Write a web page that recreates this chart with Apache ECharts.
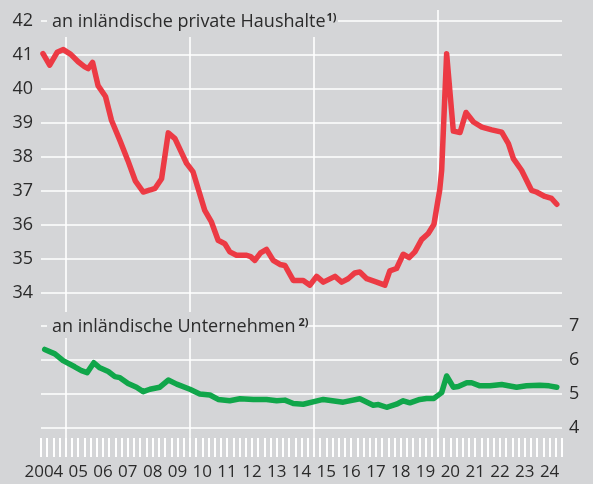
<!DOCTYPE html>
<html>
<head>
<meta charset="utf-8">
<script src="https://cdn.jsdelivr.net/npm/echarts@6/dist/echarts.min.js"></script>
<style>
  html, body { margin: 0; padding: 0; background: #d4d5d7; }
  #main { width: 593px; height: 484px; }
</style>
</head>
<body>
<div id="main"></div>
<script>
// Zinssätze (Prozent p.a.), Zeitpunkt als Dezimaljahr
var hhYears = [2004.08, 2004.35, 2004.65, 2004.9, 2005.2, 2005.5, 2005.75, 2005.9, 2006.08, 2006.3,
  2006.6, 2006.84, 2007.18, 2007.5, 2007.8, 2008.12, 2008.4, 2008.6, 2008.86, 2009.13,
  2009.4, 2009.65, 2009.87, 2010.13, 2010.6, 2010.87, 2011.14, 2011.41, 2011.61, 2011.88,
  2012.29, 2012.45, 2012.62, 2012.85, 2013.09, 2013.36, 2013.63, 2013.83, 2014.17, 2014.57,
  2014.84, 2015.11, 2015.38, 2015.85, 2016.12, 2016.38, 2016.65, 2016.85, 2017.13, 2017.53,
  2017.86, 2018.06, 2018.33, 2018.6, 2018.84, 2019.07, 2019.34, 2019.61, 2019.84, 2020.0,
  2020.07, 2020.15, 2020.35, 2020.62, 2020.89, 2021.13, 2021.43, 2021.77, 2022.17, 2022.57,
  2022.84, 2023.04, 2023.37, 2023.77, 2023.97, 2024.31, 2024.58, 2024.79];
var hhRates = [41.04, 40.70, 41.08, 41.16, 41.02, 40.80, 40.66, 40.60, 40.78, 40.10,
  39.78, 39.08, 38.49, 37.90, 37.30, 36.97, 37.03, 37.08, 37.36, 38.71,
  38.54, 38.15, 37.81, 37.56, 36.43, 36.09, 35.55, 35.45, 35.21, 35.11,
  35.11, 35.07, 34.96, 35.18, 35.28, 34.96, 34.84, 34.81, 34.37, 34.37,
  34.23, 34.49, 34.32, 34.49, 34.32, 34.42, 34.59, 34.62, 34.42, 34.32,
  34.23, 34.65, 34.72, 35.14, 35.04, 35.21, 35.57, 35.75, 36.02, 36.73,
  37.02, 37.61, 41.04, 38.76, 38.72, 39.31, 39.03, 38.88, 38.80, 38.73,
  38.39, 37.95, 37.61, 37.02, 36.97, 36.84, 36.78, 36.61];

var corpYears = [2004.15, 2004.56, 2004.89, 2005.36, 2005.63, 2005.86, 2006.13, 2006.37, 2006.71, 2006.98,
  2007.18, 2007.51, 2007.85, 2008.12, 2008.39, 2008.79, 2009.13, 2009.47, 2010.0, 2010.4,
  2010.81, 2011.14, 2011.61, 2012.02, 2012.56, 2013.09, 2013.5, 2013.83, 2014.17, 2014.57,
  2015.38, 2016.18, 2016.85, 2017.39, 2017.6, 2017.93, 2018.33, 2018.6, 2018.87, 2019.27,
  2019.54, 2019.84, 2020.15, 2020.35, 2020.62, 2020.82, 2021.16, 2021.36, 2021.69, 2022.1,
  2022.57, 2023.17, 2023.57, 2024.1, 2024.48, 2024.79];
var corpRates = [6.31, 6.18, 5.98, 5.80, 5.69, 5.63, 5.92, 5.77, 5.66, 5.51,
  5.48, 5.31, 5.20, 5.07, 5.14, 5.20, 5.41, 5.29, 5.14, 5.00,
  4.97, 4.84, 4.80, 4.86, 4.84, 4.84, 4.80, 4.82, 4.72, 4.70,
  4.84, 4.76, 4.86, 4.67, 4.69, 4.61, 4.70, 4.80, 4.74, 4.84,
  4.87, 4.87, 5.04, 5.53, 5.20, 5.22, 5.33, 5.33, 5.24, 5.24,
  5.28, 5.20, 5.24, 5.26, 5.24, 5.20];

var yearLabels = ['2004', '05', '06', '07', '08', '09', '10', '11', '12', '13', '14',
  '15', '16', '17', '18', '19', '20', '21', '22', '23', '24'];
var yearLines = [2005, 2010, 2015, 2020];

function pairs(xs, ys) {
  return xs.map(function (x, i) { return [x, ys[i]]; });
}

var bg = '#d4d5d7';
var txt = '#2b2b2b';
var font = '"Open Sans", sans-serif';

var chart = echarts.init(document.getElementById('main'));

var option = {
  backgroundColor: bg,
  animation: false,
  grid: [
    { left: 41, right: 31, top: 21, height: 272 },
    { left: 41, right: 31, top: 326, height: 102 },
    { left: 41, right: 31, top: 10, height: 430 }
  ],
  xAxis: [
    { type: 'value', gridIndex: 0, min: 2004, max: 2025, show: false },
    {
      // Quartalsstriche unter dem unteren Panel
      type: 'value', gridIndex: 1, min: 2004, max: 2025, interval: 0.25, position: 'bottom', offset: 10,
      axisLine: { show: false },
      axisTick: { show: true, length: 19, lineStyle: { color: '#fff', width: 2 } },
      axisLabel: { show: false },
      splitLine: { show: false }
    },
    { type: 'value', gridIndex: 2, min: 2004, max: 2025, show: false },
    {
      type: 'category', gridIndex: 1, position: 'bottom', boundaryGap: true,
      data: yearLabels.map(function (l, i) {
        return i === 0 ? { value: l, textStyle: { padding: [0, 19, 0, 0] } } : l;
      }),
      axisLine: { show: false },
      axisTick: { show: false },
      axisLabel: { margin: 36, fontSize: 17, color: txt, fontFamily: font, interval: 0 }
    }
  ],
  yAxis: [
    {
      type: 'value', gridIndex: 0, min: 34, max: 42, interval: 1, position: 'left',
      axisLine: { show: false }, axisTick: { show: false },
      axisLabel: { margin: 8, fontSize: 18, color: txt, fontFamily: font },
      splitLine: { lineStyle: { color: '#fff', width: 1.6 } }
    },
    {
      type: 'value', gridIndex: 1, min: 4, max: 7, interval: 1, position: 'right',
      axisLine: { show: false }, axisTick: { show: false },
      axisLabel: { margin: 7, fontSize: 18, color: txt, fontFamily: font },
      splitLine: { lineStyle: { color: '#fff', width: 1.6 } }
    },
    { type: 'value', gridIndex: 2, min: 0, max: 1, show: false }
  ],
  series: [
    {
      type: 'line', xAxisIndex: 2, yAxisIndex: 2, data: [], silent: true, z: 1,
      markLine: {
        silent: true, symbol: 'none', label: { show: false }, z: 1,
        lineStyle: { color: '#fff', width: 1.6, type: 'solid' },
        data: yearLines.map(function (y) { return { xAxis: y }; })
      }
    },
    {
      name: 'an inländische private Haushalte', type: 'line', xAxisIndex: 0, yAxisIndex: 0, z: 3,
      data: pairs(hhYears, hhRates), showSymbol: false,
      lineStyle: { color: '#ec3a44', width: 5.5, join: 'round', cap: 'round' }
    },
    {
      name: 'an inländische Unternehmen', type: 'line', xAxisIndex: 1, yAxisIndex: 1, z: 3,
      data: pairs(corpYears, corpRates), showSymbol: false,
      lineStyle: { color: '#10a64a', width: 5.5, join: 'round', cap: 'round' }
    }
  ],
  graphic: [
    { type: 'rect', z: 50, shape: { x: 47, y: 6, width: 291, height: 31 }, style: { fill: bg } },
    { type: 'rect', z: 50, shape: { x: 47, y: 312, width: 259, height: 26 }, style: { fill: bg } },
    {
      type: 'text', z: 51, x: 52, y: 22,
      style: {
        text: '{a|an inländische private Haushalte}{s|1)}',
        verticalAlign: 'middle',
        rich: {
          a: { fontSize: 18, fontFamily: font, fill: txt, lineHeight: 20 },
          s: { fontSize: 11, fontWeight: 'bold', fontFamily: font, fill: txt, verticalAlign: 'top', padding: [0, 0, 0, 1] }
        }
      }
    },
    {
      type: 'text', z: 51, x: 52, y: 327,
      style: {
        text: '{a|an inländische Unternehmen}{s|2)}',
        verticalAlign: 'middle',
        rich: {
          a: { fontSize: 18, fontFamily: font, fill: txt, lineHeight: 20 },
          s: { fontSize: 11, fontWeight: 'bold', fontFamily: font, fill: txt, verticalAlign: 'top', padding: [0, 0, 0, 3] }
        }
      }
    }
  ]
};

chart.setOption(option);
</script>
</body>
</html>
